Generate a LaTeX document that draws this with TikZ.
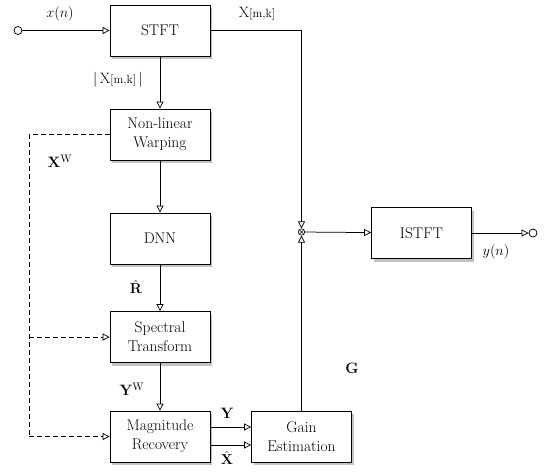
\documentclass[tikz,border=0pt]{standalone}
\usetikzlibrary{arrows.meta,shadows}
\begin{document}
\begin{tikzpicture}[x=1pt,y=-1pt,line width=0.75pt,
  blk/.style={draw, fill=white, minimum width=100pt, minimum height=51pt, align=center,
    font=\fontsize{15.5}{19}\selectfont,
    drop shadow={shadow xshift=2pt, shadow yshift=-3pt, opacity=0.4, fill=black!60}},
  tip/.style={-{Triangle[open,length=7pt,width=7pt,line width=0.7pt]}},
  lbl/.style={font=\fontsize{15}{17}\selectfont, inner sep=0pt},
  port/.style={circle, draw, fill=white, minimum size=8pt, inner sep=0pt},
  dsh/.style={dash pattern=on 5pt off 3pt}]
\useasboundingbox (0,0) rectangle (544,474);

\node[blk] (stft) at (160,30.5) {STFT};
\node[blk] (nlw) at (160,134.5) {Non-linear\\Warping};
\node[blk] (dnn) at (160,238.5) {DNN};
\node[blk] (spec) at (160,337) {Spectral\\Transform};
\node[blk] (mag) at (160,436.5) {Magnitude\\Recovery};
\node[blk] (gain) at (301.5,436.5) {Gain\\Estimation};
\node[blk] (istft) at (421.5,233) {ISTFT};

\node[circle, draw, fill=white, minimum size=6.5pt, inner sep=0pt, line width=0.6pt] (mul) at (301.5,232) {};
\draw[line width=0.6pt] (mul.north west) -- (mul.south east) (mul.north east) -- (mul.south west);

\node[port] (in) at (18,30.5) {};
\node[port] (out) at (533,233) {};

\coordinate (ya) at (0,427);
\coordinate (xa) at (0,445);
\coordinate (dtop) at (29,134.5);
\coordinate (dmid) at (29,337);
\coordinate (dbot) at (29,436.5);

\draw[tip] (in) -- (stft);
\draw[tip] (stft) -- (nlw);
\draw[tip] (nlw) -- (dnn);
\draw[tip] (dnn) -- (spec);
\draw[tip] (spec) -- (mag);
\draw[tip] (stft.east) -| (mul.north);
\draw[tip] (gain.north) -- (mul.south);
\draw[tip] (mul) -- (istft);
\draw[tip] (istft) -- (out);
\draw[tip] (mag.east |- ya) -- (gain.west |- ya);
\draw[tip] (mag.east |- xa) -- (gain.west |- xa);

\draw[dsh] (nlw.west) -- (dtop) -- (dbot);
\draw[dsh,tip] (dbot) -- (mag.west);
\draw[dsh,tip] (dmid) -- (spec.west);

\node[lbl] (lx) at (60,14) {$x(n)$};
\node[lbl] (lX) at (257,14) {X{\fontsize{12}{13}\selectfont[m,k]}};
\node[lbl] (labs) at (118,80) {|\,X{\fontsize{12}{13}\selectfont[m,k]}\,|};
\node[lbl] (lxw) at (60,161) {\textbf{X}$^{\mathrm{W}}$};
\node[lbl] (lr) at (136,287) {$\hat{\mathbf{R}}$};
\node[lbl] (lyw) at (132,389) {\textbf{Y}$^{\mathrm{W}}$};
\node[lbl] (ly) at (227,413) {\textbf{Y}};
\node[lbl] (lxh) at (227,458) {$\hat{\mathbf{X}}$};
\node[lbl] (lg) at (352,368) {\textbf{G}};
\node[lbl] (lyn) at (496,252) {$y(n)$};
\end{tikzpicture}
\end{document}
